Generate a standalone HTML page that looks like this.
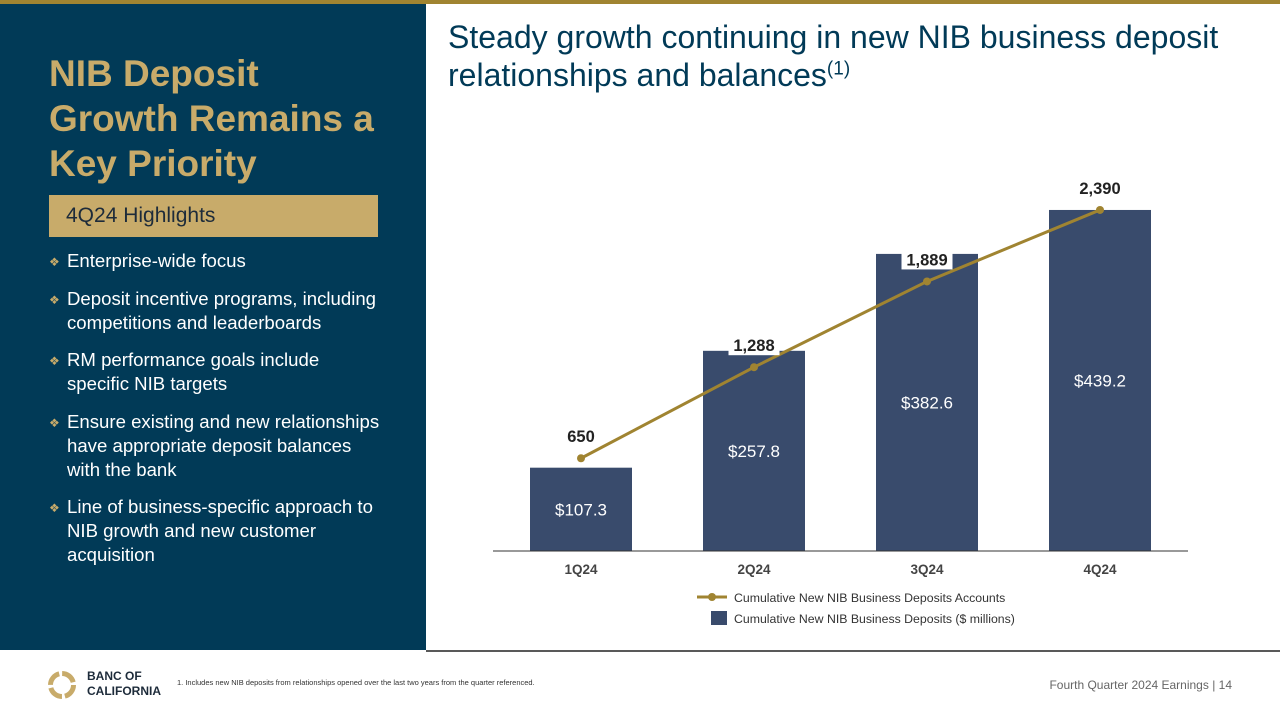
<!DOCTYPE html>
<html><head><meta charset="utf-8"><style>
body{margin:0;width:1280px;height:720px;position:relative;background:#fff;font-family:"Liberation Sans",sans-serif;overflow:hidden}
.abs{position:absolute}
ul{list-style:none;margin:0;padding:0}
li{position:relative;padding-left:18px;color:#fff;font-size:18.6px;line-height:24px;margin-bottom:13.5px}
li:before{content:"\2756";position:absolute;left:0;top:1px;color:#c8ab6a;font-size:12px}
</style></head><body>
<div class="abs" style="left:0;top:0;width:1280px;height:4px;background:#a08431"></div>
<div class="abs" style="left:0;top:4px;width:426px;height:646px;background:#013a57"></div>
<div class="abs" style="left:49px;top:51px;color:#c8ab6a;font-weight:bold;font-size:37px;line-height:45px">NIB Deposit<br>Growth Remains a<br>Key Priority</div>
<div class="abs" style="left:49px;top:195px;width:329px;height:42px;background:#c8ab6a;color:#1d2b3a;font-size:21px;line-height:42px;padding-left:17px;box-sizing:border-box">4Q24 Highlights</div>
<ul class="abs" style="left:49px;top:249px;width:334px">
<li>Enterprise-wide focus</li>
<li>Deposit incentive programs, including competitions and leaderboards</li>
<li>RM performance goals include specific NIB targets</li>
<li>Ensure existing and new relationships have appropriate deposit balances with the bank</li>
<li>Line of business-specific approach to NIB growth and new customer acquisition</li>
</ul>
<div class="abs" style="left:448px;top:18px;color:#013a57;font-size:32px;line-height:38px;white-space:nowrap">Steady growth continuing in new NIB business deposit<br>relationships and balances<sup style="font-size:19px;line-height:0">(1)</sup></div>
<svg class="abs" style="left:0;top:0" width="1280" height="720">
<g id="bars"></g><g id="line"></g>
<line x1="493" y1="551" x2="1188" y2="551" stroke="#333" stroke-width="1"/>
<g id="xt"></g>
<line x1="697" y1="597" x2="727" y2="597" stroke="#a08431" stroke-width="3"/>
<circle cx="712" cy="597" r="4" fill="#a08431"/>
<text x="734" y="602" font-size="12.3" fill="#333">Cumulative New NIB Business Deposits Accounts</text>
<rect x="711" y="611" width="16" height="14" fill="#394b6c"/>
<text x="734" y="623" font-size="12.3" fill="#333">Cumulative New NIB Business Deposits ($ millions)</text>
<line x1="426" y1="651" x2="1280" y2="651" stroke="#222" stroke-width="1.5"/>
<circle cx="62" cy="685" r="11.5" fill="none" stroke="#c8ab6a" stroke-width="5" stroke-dasharray="15 3"/>
<text x="87" y="680" font-size="12" font-weight="bold" fill="#1d2b3a">BANC OF</text>
<text x="87" y="695" font-size="12" font-weight="bold" fill="#1d2b3a">CALIFORNIA</text>
<text x="177" y="685" font-size="7.5" fill="#333">1.  Includes new NIB deposits from relationships opened over the last two years from the quarter referenced.</text>
<text x="1232" y="689" font-size="12" fill="#666" text-anchor="end">Fourth Quarter 2024 Earnings |  14</text>
</svg>
<script>
const categories=["1Q24","2Q24","3Q24","4Q24"];
const deposits=[107.3,257.8,382.6,439.2];
const depositLabels=["$107.3","$257.8","$382.6","$439.2"];
const accounts=[650,1288,1889,2390];
const accountLabels=["650","1,288","1,889","2,390"];
const NS="http://www.w3.org/2000/svg";
const base=551,x0=581,step=173,bw=102;
const xs=i=>x0+i*step, yb=v=>base-v*0.7765, yl=v=>base-v*0.1427;
function mk(t,a,p){const e=document.createElementNS(NS,t);for(const k in a)e.setAttribute(k,a[k]);p.appendChild(e);return e;}
const B=document.getElementById('bars'),L=document.getElementById('line'),X=document.getElementById('xt');
categories.forEach((c,i)=>{
 const r=mk('rect',{x:xs(i)-bw/2,y:yb(deposits[i]),width:bw,height:base-yb(deposits[i]),fill:'#394b6c'},B);
 
 
 const t=mk('text',{x:xs(i),y:(yb(deposits[i])+base)/2+6,'text-anchor':'middle','font-size':'17',fill:'#fff'},B);t.textContent=depositLabels[i];
 
 
 const xt=mk('text',{x:xs(i),y:574,'text-anchor':'middle','font-size':'13.5','font-weight':'bold',fill:'#444'},X);xt.textContent=c;
 
 
});
const pl=mk('polyline',{points:accounts.map((v,i)=>xs(i)+','+yl(v)).join(' '),fill:'none',stroke:'#a08431','stroke-width':3},L);


accounts.forEach((v,i)=>{
 const c=mk('circle',{cx:xs(i),cy:yl(v),r:4,fill:'#a08431'},L);
 
 
 const y=yl(v)-16,w=accountLabels[i].length*9+6;
 if(i>0)mk('rect',{x:xs(i)-w/2,y:y-14,width:w,height:18,fill:'#fff'},L);
 const t=mk('text',{x:xs(i),y:y,'text-anchor':'middle','font-size':'16.5','font-weight':'bold',fill:'#222'},L);t.textContent=accountLabels[i];
 
 
});
</script>
</body></html>
